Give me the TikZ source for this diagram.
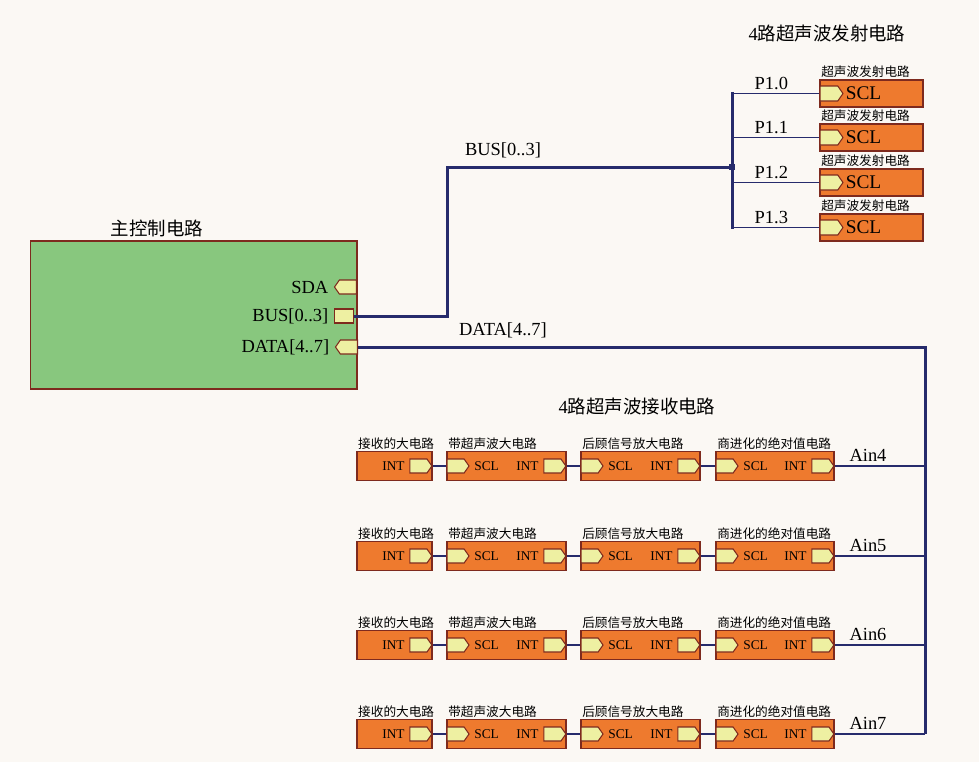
\documentclass[tikz,border=0pt]{standalone}
\usepackage{fontspec}
\setmainfont{Liberation Serif}
\newfontfamily\cjk{Noto Sans CJK SC}
\usetikzlibrary{shapes.symbols}
\definecolor{paper}{HTML}{FBF8F4}
\definecolor{board}{HTML}{88C77E}
\definecolor{unit}{HTML}{EE7A2E}
\definecolor{rim}{HTML}{7E2A1E}
\definecolor{pin}{HTML}{EEF0A2}
\definecolor{navy}{HTML}{262B6C}

\begin{document}
\begin{tikzpicture}[x=0.02cm, y=-0.02cm,
  big/.style={font=\fontsize{10.5}{12}\selectfont, text=black, inner sep=1pt},
  tag/.style={font=\cjk\fontsize{7.2}{8}\selectfont, inner sep=0.8pt},
  pintxt/.style={font=\fontsize{7.6}{9}\selectfont, inner sep=2.5pt},
  unitbox/.style={draw=rim, fill=unit, line width=0.6pt, inner sep=0pt},
  pinR/.style={signal, signal to=east, signal pointer angle=110, draw=rim, fill=pin,
    line width=0.6pt, minimum width=0.44cm, minimum height=0.28cm, inner sep=0pt},
  pinL/.style={pinR, signal to=west},
  bus/.style={navy, line width=1.7pt},
  wire/.style={navy, line width=0.7pt}]
  \path[fill=paper, use as bounding box] (0,0) rectangle (979,762);

  % main controller
  \node[draw=rim, fill=board, line width=0.6pt, minimum width=6.54cm, minimum height=2.96cm] (ctrl) at (193.5,315) {};
  \node[big] at (157,228) {\cjk 主控制电路};
  \node[pinL, anchor=east] (sda) at (357,287) {};
  \node[pinR, signal pointer angle=180, anchor=east, minimum width=0.38cm] (bus) at (354,316) {};
  \node[pinL, anchor=east] (data) at (358,347) {};
  \node[big, anchor=east, inner sep=3pt] at (sda.west) {SDA};
  \node[big, anchor=east, inner sep=3pt] at (bus.west) {BUS[0..3]};
  \node[big, anchor=east, inner sep=3pt] at (data.west) {DATA[4..7]};

  % transmitters
  \node[big] at (827,33) {4\cjk 路超声波发射电路};
  \coordinate (bend) at (447,167);
  \coordinate (jn) at (732,167);
  \foreach \i/\y in {0/93.5,1/137.5,2/182.5,3/227.5}{
    \node[unitbox, minimum width=2.06cm, minimum height=0.54cm] (tx\i) at (871.5,\y) {};
    \node[tag, anchor=south west] at (tx\i.north west) {超声波发射电路};
    \node[pinR, anchor=west, minimum width=0.46cm, minimum height=0.3cm] (tx\i-in) at (tx\i.west) {};
    \node[big, anchor=west, font=\fontsize{11}{12}\selectfont] at (tx\i-in.east) {SCL};
    \draw[wire] (jn |- tx\i-in.west) -- node[big, above, pos=0.45, yshift=1pt] {P1.\i} (tx\i-in.west);
  }
  \draw[bus] (bus.east) -| (bend) -- (jn);
  \draw[bus] ([yshift=1pt]jn |- tx0-in.west) -- ([yshift=-1pt]jn |- tx3-in.west);
  \node[fill=navy, minimum size=3.5pt, inner sep=0pt] (dot) at (jn) {};
  \node[big] at (503,150) {BUS[0..3]};

  % receivers
  \node[big] at (637,407) {4\cjk 路超声波接收电路};
  \coordinate (dbot) at (925,734);
  \draw[bus] (data.east) -| (dbot);
  \node[big] at (503,330) {DATA[4..7]};
  \foreach \r/\y in {4/466,5/556,6/645,7/734}{
    \node[unitbox, minimum width=1.5cm, minimum height=0.58cm] (a\r) at (394.5,\y) {};
    \node[tag, anchor=south west] at (a\r.north west) {接收的大电路};
    \node[pinR, anchor=east] (a\r-out) at (a\r.east) {};
    \node[pintxt, anchor=east] at (a\r-out.west) {INT};
    \foreach \b/\x/\w/\t in {b/506.5/2.38/带超声波大电路, c/640.5/2.38/后顾信号放大电路, d/775/2.36/商进化的绝对值电路}{
      \node[unitbox, minimum width=\w cm, minimum height=0.58cm] (\b\r) at (\x,\y) {};
      \node[tag, anchor=south west] at (\b\r.north west) {\t};
      \node[pinR, anchor=west] (\b\r-in) at (\b\r.west) {};
      \node[pinR, anchor=east] (\b\r-out) at (\b\r.east) {};
      \node[pintxt, anchor=west] at (\b\r-in.east) {SCL};
      \node[pintxt, anchor=east] at (\b\r-out.west) {INT};
    }
    \draw[wire] (a\r-out.east) -- (b\r-in.west);
    \draw[wire] (b\r-out.east) -- (c\r-in.west);
    \draw[wire] (c\r-out.east) -- (d\r-in.west);
    \draw[wire] (d\r-out.east) -- node[big, above, pos=0.37, yshift=1pt] {Ain\r} (d\r-out.east -| dbot);
  }
\end{tikzpicture}
\end{document}
